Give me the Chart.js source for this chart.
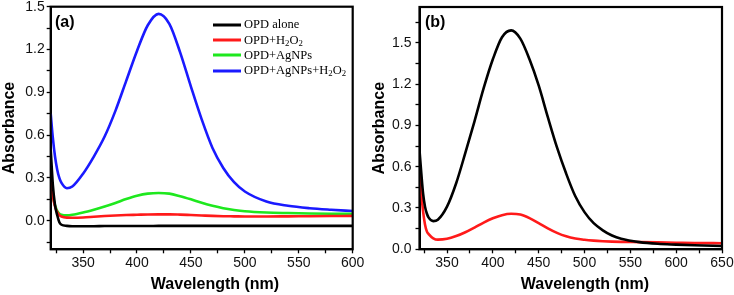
<!DOCTYPE html>
<html>
<head>
<meta charset="utf-8">
<script src="https://cdn.jsdelivr.net/npm/chart.js@4"></script>
<style>
  body { margin: 0; background: #fff; }
  #wrap { position: relative; width: 734px; height: 295px; overflow: hidden; font-family: "Liberation Sans", Arial, sans-serif; }
  canvas { position: absolute; top: 0; }
  #chartA { left: 0; }
  #chartB { left: 370px; }
  .tag { position: absolute; font-weight: bold; font-size: 16px; transform: translateY(-50%); }
  .xtitle { position: absolute; font-weight: bold; font-size: 16px; transform: translate(-50%, -50%); white-space: nowrap; }
  .leg { position: absolute; left: 213px; font-family: "Liberation Serif", "Times New Roman", serif; font-size: 12.5px; white-space: nowrap; transform: translateY(-50%); }
  .leg span.ln { display: inline-block; width: 28px; height: 3px; vertical-align: middle; margin-right: 3px; }
  .leg sub { font-size: 70%; vertical-align: -2px; line-height: 0; }
</style>
</head>
<body>
<div id="wrap">
  <canvas id="chartA" width="370" height="295"></canvas>
  <canvas id="chartB" width="364" height="295"></canvas>
  <div class="tag" style="left:55px; top:22px">(a)</div>
  <div class="tag" style="left:425px; top:22px">(b)</div>
  <div class="xtitle" style="left:215px; top:284px">Wavelength (nm)</div>
  <div class="xtitle" style="left:585px; top:284px">Wavelength (nm)</div>
  <div class="leg" style="top:24px"><span class="ln" style="background:#000"></span>OPD alone</div>
  <div class="leg" style="top:39.5px"><span class="ln" style="background:#ff1a1a"></span>OPD+H<sub>2</sub>O<sub>2</sub></div>
  <div class="leg" style="top:54.5px"><span class="ln" style="background:#1ee81e"></span>OPD+AgNPs</div>
  <div class="leg" style="top:70px"><span class="ln" style="background:#1a1aff"></span>OPD+AgNPs+H<sub>2</sub>O<sub>2</sub></div>
</div>

<script>
// panel (a)
const wavelengthA = [320, 322, 324, 326, 328, 330, 335, 340, 350, 360, 370, 380, 390, 400, 410, 420, 430, 440, 450, 460, 470, 480, 490, 500, 520, 540, 560, 580, 600];
const opdAlone = [0.50, 0.25, 0.11, 0.04, -0.01, -0.028, -0.036, -0.038, -0.038, -0.038, -0.037, -0.037, -0.037, -0.037, -0.037, -0.036, -0.036, -0.036, -0.036, -0.036, -0.036, -0.036, -0.036, -0.036, -0.036, -0.036, -0.036, -0.036, -0.036];
const opdH2O2 = [0.27, 0.17, 0.10, 0.06, 0.04, 0.03, 0.022, 0.021, 0.023, 0.028, 0.033, 0.037, 0.040, 0.042, 0.044, 0.045, 0.045, 0.043, 0.040, 0.037, 0.034, 0.032, 0.031, 0.030, 0.030, 0.031, 0.032, 0.033, 0.034];
const opdAgNPs = [0.24, 0.17, 0.11, 0.07, 0.05, 0.042, 0.038, 0.042, 0.058, 0.078, 0.100, 0.125, 0.152, 0.175, 0.190, 0.195, 0.190, 0.172, 0.150, 0.126, 0.105, 0.088, 0.076, 0.067, 0.058, 0.054, 0.051, 0.049, 0.048];
const opdAgNPsH2O2 = [0.75, 0.58, 0.45, 0.36, 0.30, 0.265, 0.228, 0.24, 0.33, 0.45, 0.59, 0.77, 0.98, 1.19, 1.37, 1.45, 1.38, 1.18, 0.94, 0.71, 0.51, 0.37, 0.27, 0.205, 0.135, 0.105, 0.088, 0.077, 0.068];

// panel (b)
const wavelengthB = [320, 322, 324, 326, 328, 330, 335, 340, 350, 360, 370, 380, 390, 400, 410, 420, 430, 440, 450, 460, 470, 480, 490, 500, 510, 520, 530, 540, 560, 580, 600, 620, 650];
const blackB = [0.72, 0.55, 0.40, 0.31, 0.26, 0.23, 0.205, 0.215, 0.31, 0.48, 0.70, 0.93, 1.17, 1.38, 1.54, 1.59, 1.53, 1.38, 1.19, 0.96, 0.74, 0.55, 0.385, 0.27, 0.19, 0.138, 0.10, 0.076, 0.052, 0.040, 0.034, 0.029, 0.024];
const redB = [0.56, 0.40, 0.27, 0.18, 0.13, 0.11, 0.08, 0.07, 0.076, 0.096, 0.124, 0.158, 0.194, 0.225, 0.248, 0.258, 0.252, 0.226, 0.19, 0.152, 0.119, 0.094, 0.078, 0.069, 0.063, 0.059, 0.056, 0.054, 0.052, 0.050, 0.048, 0.046, 0.044];

// ticks (all drawn, only the majors get labels)
const xTicksA = [325, 350, 375, 400, 425, 450, 475, 500, 525, 550, 575, 600];
const xLabelsA = [350, 400, 450, 500, 550, 600];
const yTicksA = [-0.15, 0, 0.15, 0.3, 0.45, 0.6, 0.75, 0.9, 1.05, 1.2, 1.35, 1.5];
const yLabelsA = [0, 0.3, 0.6, 0.9, 1.2, 1.5];
const xTicksB = [325, 350, 375, 400, 425, 450, 475, 500, 525, 550, 575, 600, 625, 650];
const xLabelsB = [350, 400, 450, 500, 550, 600, 650];
const yTicksB = [0, 0.15, 0.3, 0.45, 0.6, 0.75, 0.9, 1.05, 1.2, 1.35, 1.5, 1.65];
const yLabelsB = [0, 0.3, 0.6, 0.9, 1.2, 1.5];

const tickFont = { family: "'Liberation Sans', Arial, sans-serif", size: 14 };
const titleFont = { family: "'Liberation Sans', Arial, sans-serif", size: 16, weight: "bold" };

// draws the closed box round the plot area
const framePlugin = {
  id: "frame",
  afterDraw(chart) {
    const a = chart.chartArea;
    const ctx = chart.ctx;
    ctx.save();
    ctx.strokeStyle = "#000";
    ctx.lineWidth = 2.2;
    ctx.strokeRect(a.left, a.top, a.right - a.left, a.bottom - a.top);
    ctx.restore();
  }
};

function toPoints(xs, ys) {
  return xs.map((x, i) => ({ x: x, y: ys[i] }));
}

function series(xs, ys, color) {
  return {
    data: toPoints(xs, ys),
    borderColor: color,
    borderWidth: 2.6,
    pointRadius: 0,
    showLine: true,
    fill: false,
    cubicInterpolationMode: "monotone"
  };
}

function makeChart(id, datasets, cfg) {
  const near = (list, v) => list.some(t => Math.abs(t - v) < 1e-6);
  new Chart(document.getElementById(id), {
    type: "scatter",
    data: { datasets: datasets },
    options: {
      responsive: false,
      animation: false,
      layout: { padding: { top: cfg.top, right: cfg.right, left: 0, bottom: 0 } },
      plugins: { legend: { display: false }, tooltip: { enabled: false } },
      scales: {
        x: {
          type: "linear",
          min: cfg.xMin,
          max: cfg.xMax,
          afterBuildTicks: s => { s.ticks = cfg.xTicks.map(v => ({ value: v })); },
          afterFit: s => { s.height = 295 - cfg.bottom; s.paddingLeft = 0; s.paddingRight = 0; },
          ticks: {
            autoSkip: false,
            maxRotation: 0,
            padding: 1,
            color: "#111",
            font: tickFont,
            callback: v => near(cfg.xLabels, v) ? String(v) : ""
          },
          grid: { drawOnChartArea: false, tickLength: 4, tickColor: "#000", tickWidth: 1.3 },
          border: { display: true, color: "#000", width: 2 }
        },
        y: {
          type: "linear",
          min: cfg.yMin,
          max: cfg.yMax,
          afterBuildTicks: s => { s.ticks = cfg.yTicks.map(v => ({ value: v })); },
          afterFit: s => { s.width = cfg.left; s.paddingTop = 0; s.paddingBottom = 0; },
          ticks: {
            autoSkip: false,
            padding: cfg.yPad,
            color: "#111",
            font: tickFont,
            callback: v => near(cfg.yLabels, v) ? v.toFixed(1) : ""
          },
          grid: { drawOnChartArea: false, tickLength: 4, tickColor: "#000", tickWidth: 1.3 },
          border: { display: true, color: "#000", width: 2 },
          title: { display: true, text: "Absorbance", color: "#000", font: titleFont, padding: { top: 0, bottom: 0 } }
        }
      }
    },
    plugins: [framePlugin]
  });
}

function drawCharts() {
  makeChart("chartA", [
    series(wavelengthA, opdAlone, "#000000"),
    series(wavelengthA, opdH2O2, "#ff1a1a"),
    series(wavelengthA, opdAgNPs, "#1ee81e"),
    series(wavelengthA, opdAgNPsH2O2, "#1a1aff")
  ], {
    xMin: 320, xMax: 600, yMin: -0.2, yMax: 1.5,
    xTicks: xTicksA, xLabels: xLabelsA, yTicks: yTicksA, yLabels: yLabelsA,
    left: 50.7, top: 6.7, right: 17.3, bottom: 249.3, yPad: 2
  });

  makeChart("chartB", [
    series(wavelengthB, blackB, "#000000"),
    series(wavelengthB, redB, "#ff1a1a")
  ], {
    xMin: 320, xMax: 650, yMin: 0, yMax: 1.76,
    xTicks: xTicksB, xLabels: xLabelsB, yTicks: yTicksB, yLabels: yLabelsB,
    left: 49.5, top: 7, right: 12, bottom: 249.3, yPad: 4
  });
}

document.addEventListener("DOMContentLoaded", drawCharts);
</script>
</body>
</html>
